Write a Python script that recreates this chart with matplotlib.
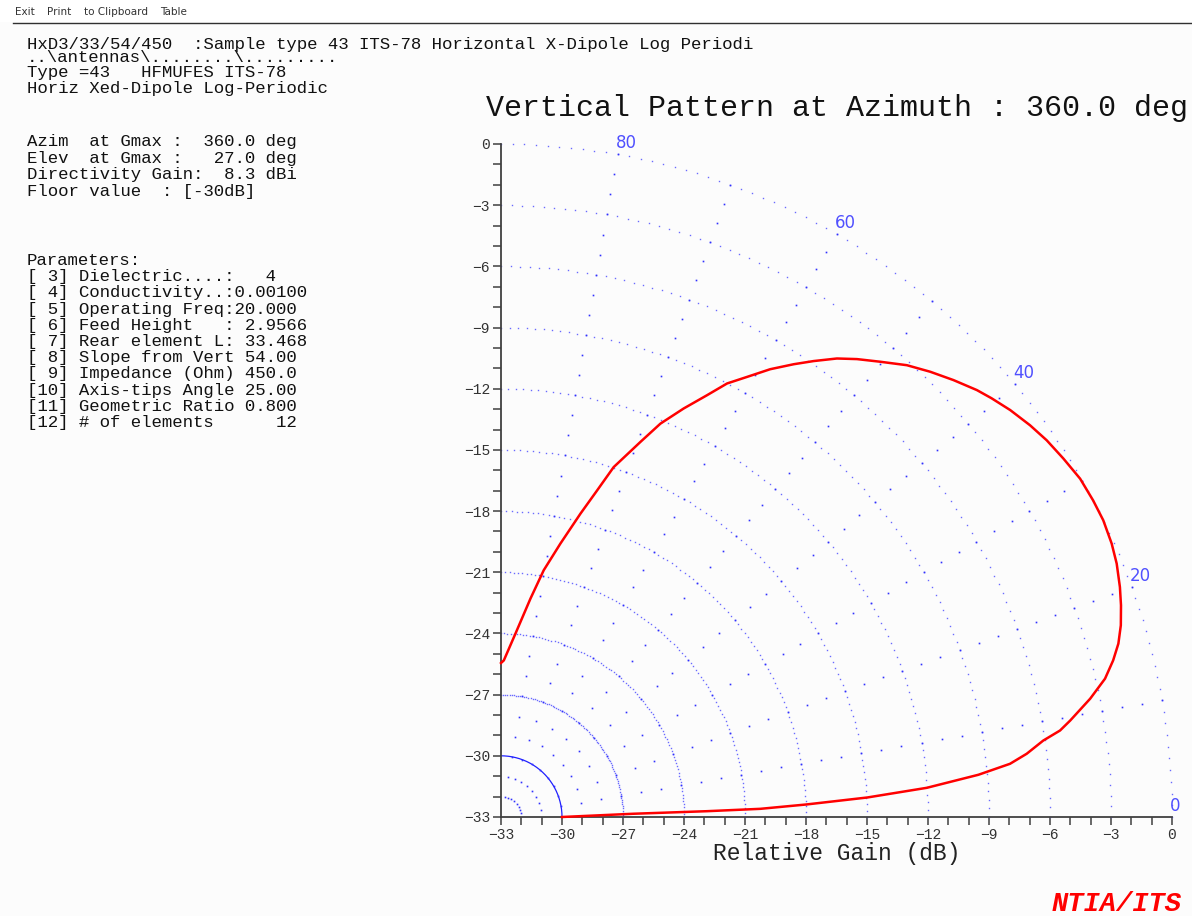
import numpy as np
import matplotlib
matplotlib.use("Agg")
import matplotlib.pyplot as plt

# elevation angle (deg) and relative gain (dB)
elevation = [0, 1.4, 1.61, 1.8, 2.34, 3.04, 3.91, 5.04, 5.95, 6.84, 8.0, 8.77, 9.59, 11.32,
             12.86, 14.31, 15.64, 17.14, 18.8, 20.33, 22.31, 24.06, 26.16, 28.06,
             30.22, 32.44, 34.54, 36.44, 38.55, 40.4, 41.81, 43.91, 45.96, 47.98,
             50.12, 52.06, 53.69, 55.49, 57.04, 58.91, 60.72, 62.39, 63.9, 65.85,
             67.88, 69.55, 72.1, 73.55, 75.28, 77.71, 80.15, 82.29, 85.48, 88.96, 90]
gain_db = [-30.0, -26.49, -22.87, -20.24, -17.98, -14.96, -12.01, -9.43, -7.83, -6.96,
           -6.07, -5.18, -4.61, -3.45, -2.53, -1.93, -1.47, -1.10, -0.79, -0.54, -0.27,
           -0.11, 0.0, 0.0, -0.04, -0.23, -0.42, -0.66, -0.98, -1.32, -1.60,
           -2.11, -2.63, -3.18, -3.91, -4.53, -5.10, -5.87, -6.54, -7.36, -8.26,
           -9.01, -9.97, -11.05, -12.18, -13.37, -14.97, -16.30, -17.62, -19.28,
           -20.72, -22.19, -23.98, -25.32, -25.45]

gain_min = -33          # centre of the quarter plot
floor_db = -30
ring_db = [-27, -24, -21, -18, -15, -12, -9, -6, -3, 0]
spoke_deg = [10, 20, 30, 40, 50, 60, 70, 80]
angle_labels = [80, 60, 40, 20, 0]
ticks_major = list(range(-33, 1, 3))

header_lines = [
    ("HxD3/33/54/450  :Sample type 43 ITS-78 Horizontal X-Dipole Log Periodi", 49),
    ("..\\antennas\\........\\.........", 62),
    ("Type =43   HFMUFES ITS-78", 77),
    ("Horiz Xed-Dipole Log-Periodic", 93),
]
summary_lines = [
    "Azim  at Gmax :  360.0 deg",
    "Elev  at Gmax :   27.0 deg",
    "Directivity Gain:  8.3 dBi",
    "Floor value  : [-30dB]",
]
param_lines = [
    "Parameters:",
    "[ 3] Dielectric....:   4",
    "[ 4] Conductivity..:0.00100",
    "[ 5] Operating Freq:20.000",
    "[ 6] Feed Height   : 2.9566",
    "[ 7] Rear element L: 33.468",
    "[ 8] Slope from Vert 54.00",
    "[ 9] Impedance (Ohm) 450.0",
    "[10] Axis-tips Angle 25.00",
    "[11] Geometric Ratio 0.800",
    "[12] # of elements      12",
]

W, H = 1192, 916
mono = "Liberation Mono"
fig = plt.figure(figsize=(W / 100, H / 100), dpi=100)
fig.patch.set_facecolor("#fcfcfc")

# menu strip at the top
fig.patches.append(plt.Rectangle((0, 1 - 22 / H), 1, 22 / H, transform=fig.transFigure,
                                 facecolor="white", edgecolor="none"))
fig.lines.append(plt.Line2D([13 / W, 1], [1 - 22.5 / H] * 2, transform=fig.transFigure,
                            color="#303030", lw=1))
for txt, px in [("Exit", 15), ("Print", 47), ("to Clipboard", 84), ("Table", 160)]:
    fig.text(px / W, 1 - 12 / H, txt, fontsize=7.5, family="DejaVu Sans",
             color="#333333", va="center")

def px_text(x, y, s, **kw):
    fig.text(x / W, 1 - y / H, s, va="baseline", ha="left", **kw)

for s, y in header_lines:
    px_text(27, y, s, family=mono, fontsize=12.5, color="#111111")
for i, s in enumerate(summary_lines):
    px_text(27, 146 + i * 16.7, s, family=mono, fontsize=12.5, color="#111111")
for i, s in enumerate(param_lines):
    px_text(27, 265 + i * 16.2, s, family=mono, fontsize=12.5, color="#111111")

px_text(486, 116, "Vertical Pattern at Azimuth : 360.0 deg", family=mono,
        fontsize=21.6, color="#111111")
px_text(1052, 911, "NTIA/ITS", family=mono, fontsize=19.5, color="red",
        weight="bold", style="italic")

ax = fig.add_axes([501 / W, (H - 817) / H, 671 / W, 673 / H])
ax.set_facecolor("#fcfcfc")
ax.set_xlim(-33, 0)
ax.set_ylim(-33, 0)

# grid rings, dotted every degree
th = np.radians(np.arange(0, 91, 1))
for g in ring_db:
    r = g - gain_min
    ax.plot(gain_min + r * np.cos(th), gain_min + r * np.sin(th), ls="none",
            marker="s", ms=1.0, mew=0, color="#6a6aff", clip_on=False)
r_floor = floor_db - gain_min
tt = np.radians(np.linspace(0, 90, 200))
ax.plot(gain_min + r_floor * np.cos(tt), gain_min + r_floor * np.sin(tt),
        color="#2020ff", lw=0.9)

# radial spokes, one dot per dB
rr = np.arange(1, 34)
for a in spoke_deg:
    ax.plot(gain_min + rr * np.cos(np.radians(a)), gain_min + rr * np.sin(np.radians(a)),
            ls="none", marker="s", ms=1.2, mew=0, color="#3030ff")

for a in angle_labels:
    r = 0 - gain_min
    ax.text(gain_min + r * np.cos(np.radians(a)) - 0.1, gain_min + r * np.sin(np.radians(a)) + 0.1,
            str(a), color="#5050ff", fontsize=12, family="DejaVu Sans",
            ha="left", va="bottom", clip_on=False)

# pattern
el = np.radians(np.array(elevation))
rad = np.array(gain_db) - gain_min
ax.plot(gain_min + rad * np.cos(el), gain_min + rad * np.sin(el), color="red",
        lw=1.8, clip_on=False, zorder=5, solid_joinstyle="round")

for side in ["top", "right"]:
    ax.spines[side].set_visible(False)
for side in ["left", "bottom"]:
    ax.spines[side].set_color("#404040")
    ax.spines[side].set_linewidth(1.3)
ax.set_xticks(ticks_major)
ax.set_yticks(ticks_major)
ax.set_xticks(range(-33, 1), minor=True)
ax.set_yticks(range(-33, 1), minor=True)
ax.tick_params(which="both", direction="out", length=6, width=1.1, color="#404040",
               labelsize=10.5, labelcolor="#333333", pad=2)
for lab in ax.get_xticklabels() + ax.get_yticklabels():
    lab.set_family(mono)
ax.set_xlabel("Relative Gain (dB)", family=mono, fontsize=16.5, color="#222222",
              labelpad=0)

fig.savefig("out.png", dpi=100, facecolor=fig.get_facecolor())
